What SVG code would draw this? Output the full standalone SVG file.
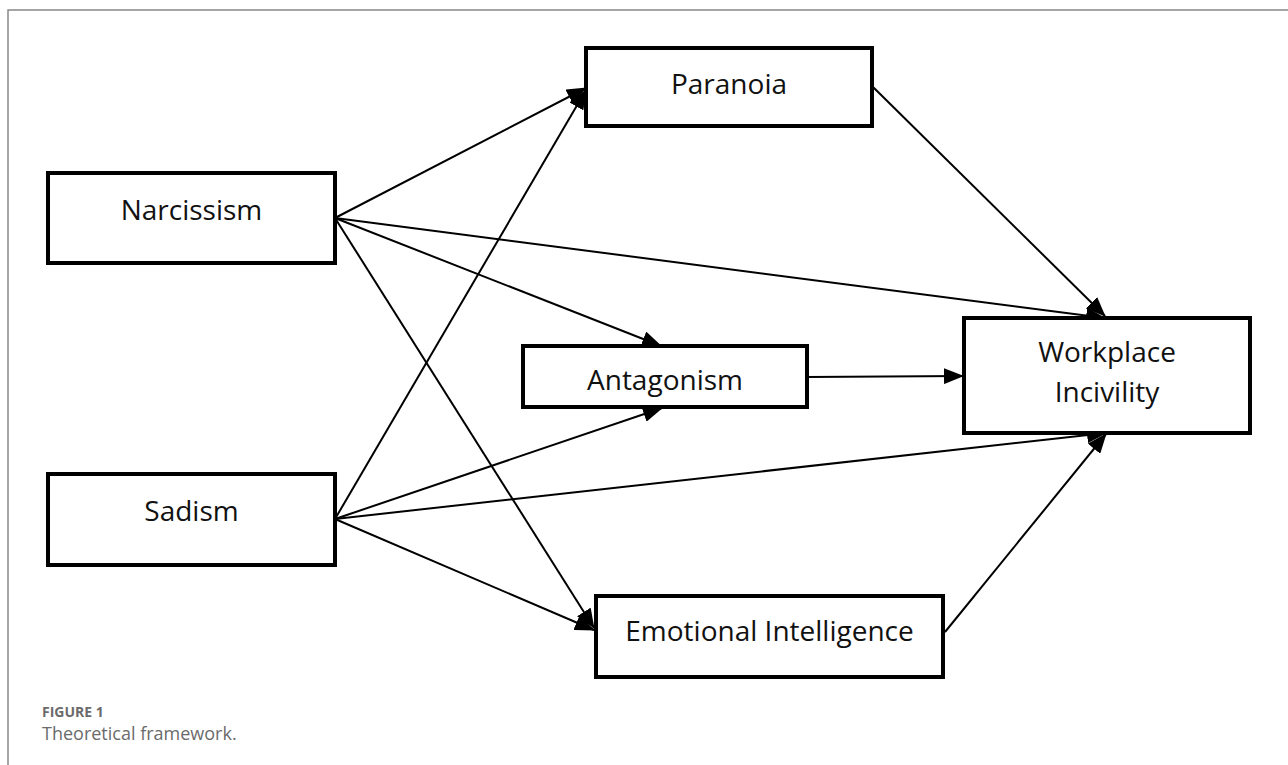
<svg xmlns="http://www.w3.org/2000/svg" width="1288" height="765" viewBox="0 0 1288 765">
<style>
.box{fill:#fff;stroke:#000;stroke-width:4}
.lbl{font-family:"Open Sans","Noto Sans",sans-serif;font-size:28px;fill:#111;text-anchor:middle}
.edge{stroke:#000;stroke-width:2;fill:none;marker-end:url(#ah)}
.cap1{font-family:"Open Sans","Noto Sans",sans-serif;font-size:14px;font-weight:bold;fill:#6b6b6b}
.cap2{font-family:"Open Sans","Noto Sans",sans-serif;font-size:18px;fill:#6b6b6b}
</style>
<defs>
<marker id="ah" viewBox="0 0 20 16" refX="19" refY="8" markerWidth="20" markerHeight="16" markerUnits="userSpaceOnUse" orient="auto">
<path d="M0,0 L20,8 L0,16 Z" fill="#000"/>
</marker>
</defs>
<rect width="1288" height="765" fill="#fff"/>
<path d="M8,765 V10 H1288" fill="none" stroke="#888" stroke-width="1.5"/>
<g id="connectors">
<line class="edge" x1="335" y1="218" x2="586" y2="88"/>
<line class="edge" x1="335" y1="218" x2="1105" y2="318"/>
<line class="edge" x1="335" y1="218" x2="661" y2="346"/>
<line class="edge" x1="335" y1="218" x2="594" y2="628"/>
<line class="edge" x1="335" y1="519" x2="586" y2="90"/>
<line class="edge" x1="335" y1="519" x2="662" y2="408"/>
<line class="edge" x1="335" y1="519" x2="1106" y2="433"/>
<line class="edge" x1="335" y1="519" x2="594" y2="630"/>
<line class="edge" x1="873" y1="87" x2="1105" y2="316"/>
<line class="edge" x1="807" y1="377" x2="963" y2="376"/>
<line class="edge" x1="945" y1="632" x2="1106" y2="434"/>
</g>
<g id="narcissism">
<rect class="box" x="48" y="173" width="287" height="90"/>
<text class="lbl" x="191.5" y="220">Narcissism</text>
</g>
<g id="sadism">
<rect class="box" x="48" y="474" width="287" height="91"/>
<text class="lbl" x="191.5" y="521">Sadism</text>
</g>
<g id="paranoia">
<rect class="box" x="586" y="48" width="286" height="78"/>
<text class="lbl" x="729" y="94">Paranoia</text>
</g>
<g id="antagonism">
<rect class="box" x="523" y="346" width="284" height="61"/>
<text class="lbl" x="665" y="390">Antagonism</text>
</g>
<g id="workplace-incivility">
<rect class="box" x="964" y="318" width="286" height="115"/>
<text class="lbl" x="1107" y="362">Workplace</text>
<text class="lbl" x="1107" y="402">Incivility</text>
</g>
<g id="emotional-intelligence">
<rect class="box" x="596" y="596" width="347" height="81"/>
<text class="lbl" x="769.5" y="641">Emotional Intelligence</text>
</g>
<text class="cap1" x="42" y="717">FIGURE 1</text>
<text class="cap2" x="42" y="740">Theoretical framework.</text>
</svg>
